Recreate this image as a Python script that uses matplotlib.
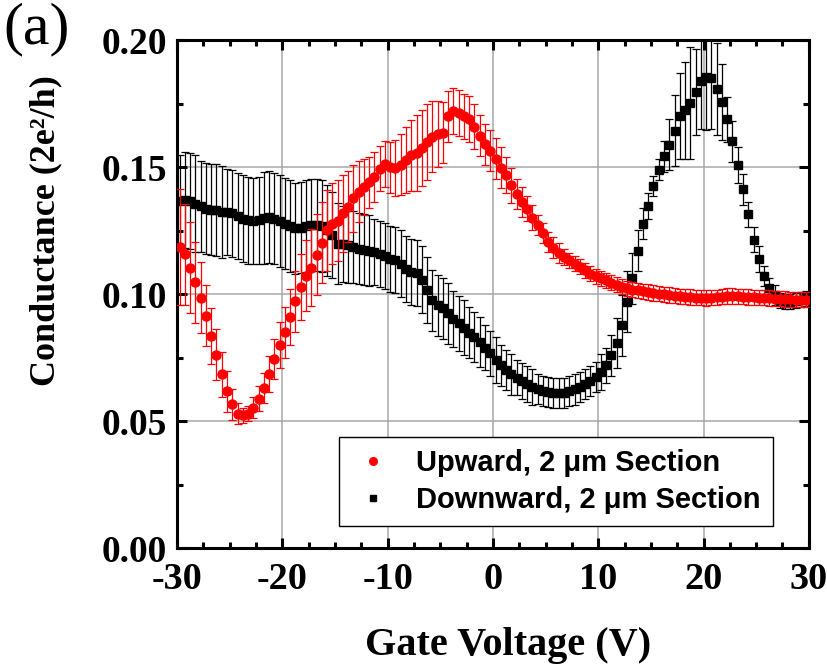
import numpy as np
import matplotlib
matplotlib.use("Agg")
import matplotlib.pyplot as plt
from matplotlib.lines import Line2D
from matplotlib.ticker import MultipleLocator, FormatStrFormatter

# gate voltage sweep, 0.5 V steps
gate_voltage = np.arange(-29.75, 30.0, 0.5)

upward = [
    0.1186, 0.1157, 0.1105, 0.1047, 0.0986, 0.0915, 0.0836, 0.0762, 0.0684, 0.0618,
    0.0566, 0.0530, 0.0524, 0.0530, 0.0554, 0.0589, 0.0630, 0.0686, 0.0745, 0.0800,
    0.0850, 0.0911, 0.0972, 0.1028, 0.1073, 0.1105, 0.1156, 0.1203, 0.1251, 0.1278,
    0.1290, 0.1318, 0.1344, 0.1377, 0.1403, 0.1423, 0.1440, 0.1462, 0.1495, 0.1514,
    0.1500, 0.1497, 0.1510, 0.1528, 0.1547, 0.1556, 0.1575, 0.1600, 0.1620, 0.1630,
    0.1635, 0.1700, 0.1722, 0.1714, 0.1700, 0.1690, 0.1660, 0.1625, 0.1590, 0.1565,
    0.1534, 0.1499, 0.1469, 0.1429, 0.1394, 0.1363, 0.1337, 0.1302, 0.1272, 0.1241,
    0.1206, 0.1184, 0.1163, 0.1147, 0.1134, 0.1121, 0.1108, 0.1094, 0.1081, 0.1071,
    0.1062, 0.1055, 0.1045, 0.1038, 0.1029, 0.1024, 0.1018, 0.1016, 0.1012, 0.1009,
    0.1005, 0.1002, 0.0999, 0.0997, 0.0994, 0.0992, 0.0990, 0.0989, 0.0987, 0.0986,
    0.0985, 0.0986, 0.0988, 0.0991, 0.0993, 0.0993, 0.0992, 0.0990, 0.0989, 0.0988,
    0.0987, 0.0986, 0.0985, 0.0983, 0.0982, 0.0981, 0.0980, 0.0979, 0.0978, 0.0978,
]
upward_err = [
    0.023, 0.020, 0.018, 0.016, 0.014, 0.012, 0.011, 0.010, 0.009, 0.008,
    0.006, 0.004, 0.003, 0.003, 0.004, 0.005, 0.006, 0.007, 0.008, 0.009,
    0.010, 0.011, 0.012, 0.013, 0.014, 0.015, 0.016, 0.016, 0.016, 0.016,
    0.016, 0.015, 0.014, 0.013, 0.012, 0.011, 0.010, 0.010, 0.009, 0.009,
    0.010, 0.011, 0.012, 0.013, 0.014, 0.015, 0.015, 0.015, 0.014, 0.013,
    0.012, 0.010, 0.009, 0.009, 0.009, 0.009, 0.009, 0.008, 0.008, 0.008,
    0.008, 0.008, 0.007, 0.007, 0.006, 0.006, 0.005, 0.005, 0.004, 0.004,
    0.004, 0.004, 0.004, 0.003, 0.003, 0.003, 0.003, 0.003, 0.003, 0.003,
    0.003, 0.003, 0.003, 0.003, 0.003, 0.003, 0.003, 0.003, 0.003, 0.003,
    0.003, 0.003, 0.003, 0.003, 0.003, 0.003, 0.003, 0.003, 0.003, 0.003,
    0.003, 0.003, 0.003, 0.003, 0.003, 0.003, 0.003, 0.003, 0.003, 0.003,
    0.003, 0.003, 0.003, 0.003, 0.003, 0.003, 0.003, 0.003, 0.003, 0.003,
]

downward = [
    0.1368, 0.1371, 0.1368, 0.1357, 0.1346, 0.1337, 0.1333, 0.1331, 0.1324, 0.1324,
    0.1318, 0.1307, 0.1298, 0.1291, 0.1289, 0.1291, 0.1301, 0.1304, 0.1298, 0.1289,
    0.1278, 0.1268, 0.1259, 0.1262, 0.1268, 0.1272, 0.1272, 0.1268, 0.1252, 0.1232,
    0.1199, 0.1197, 0.1193, 0.1186, 0.1180, 0.1176, 0.1171, 0.1167, 0.1160, 0.1151,
    0.1140, 0.1134, 0.1121, 0.1101, 0.1088, 0.1084, 0.1058, 0.1016, 0.0976, 0.0957,
    0.0944, 0.0926, 0.0904, 0.0885, 0.0869, 0.0848, 0.0832, 0.0812, 0.0790, 0.0767,
    0.0740, 0.0720, 0.0701, 0.0685, 0.0672, 0.0659, 0.0646, 0.0635, 0.0626, 0.0619,
    0.0615, 0.0611, 0.0611, 0.0612, 0.0618, 0.0625, 0.0635, 0.0646, 0.0659, 0.0674,
    0.0694, 0.0720, 0.0760, 0.0808, 0.0878, 0.0970, 0.1062, 0.1171, 0.1278, 0.1348,
    0.1425, 0.1491, 0.1543, 0.1589, 0.1643, 0.1701, 0.1724, 0.1753, 0.1797, 0.1840,
    0.1856, 0.1852, 0.1808, 0.1757, 0.1688, 0.1602, 0.1509, 0.1413, 0.1315, 0.1215,
    0.1139, 0.1071, 0.1025, 0.0996, 0.0976, 0.0970, 0.0970, 0.0974, 0.0979, 0.0983,
]
downward_err = [
    0.018, 0.019, 0.019, 0.019, 0.018, 0.018, 0.018, 0.018, 0.018, 0.017,
    0.017, 0.017, 0.017, 0.017, 0.017, 0.017, 0.018, 0.018, 0.018, 0.018,
    0.018, 0.018, 0.018, 0.018, 0.018, 0.018, 0.018, 0.018, 0.018, 0.017,
    0.016, 0.015, 0.015, 0.014, 0.014, 0.014, 0.014, 0.013, 0.013, 0.013,
    0.013, 0.013, 0.013, 0.013, 0.013, 0.013, 0.013, 0.013, 0.012, 0.012,
    0.012, 0.012, 0.011, 0.011, 0.011, 0.010, 0.010, 0.010, 0.009, 0.009,
    0.009, 0.008, 0.008, 0.008, 0.007, 0.007, 0.007, 0.007, 0.006, 0.006,
    0.006, 0.006, 0.006, 0.006, 0.006, 0.006, 0.006, 0.006, 0.006, 0.006,
    0.007, 0.007, 0.008, 0.010, 0.012, 0.012, 0.010, 0.008, 0.006, 0.005,
    0.004, 0.004, 0.006, 0.010, 0.014, 0.017, 0.019, 0.022, 0.017, 0.019,
    0.021, 0.020, 0.018, 0.015, 0.009, 0.008, 0.007, 0.006, 0.005, 0.005,
    0.005, 0.004, 0.004, 0.004, 0.003, 0.003, 0.003, 0.003, 0.003, 0.003,
]

legend_labels = ["Upward, 2 \u03bcm Section", "Downward, 2 \u03bcm Section"]

plt.rcParams["axes.unicode_minus"] = False
serif_bold = {"family": "Liberation Serif", "weight": "bold"}

fig = plt.figure(figsize=(8.27, 6.71), dpi=100)
ax = fig.add_axes([0.214, 0.183, 0.764, 0.757])

ax.grid(True, color="#a8a8a8", linewidth=1.1, zorder=0)

ax.errorbar(gate_voltage, downward, yerr=downward_err, fmt="s", color="black",
            ms=5.2, ecolor="black", elinewidth=0.9, capsize=2.6, capthick=0.9,
            zorder=3)
ax.errorbar(gate_voltage, upward, yerr=upward_err, fmt="o", color="red",
            ms=6.5, ecolor="red", elinewidth=0.9, capsize=2.6, capthick=0.9,
            zorder=4)

ax.set_xlim(-30, 30)
ax.set_ylim(0, 0.20)
ax.xaxis.set_major_locator(MultipleLocator(10))
ax.xaxis.set_minor_locator(MultipleLocator(2.5))
ax.yaxis.set_major_locator(MultipleLocator(0.05))
ax.yaxis.set_minor_locator(MultipleLocator(0.025))
ax.yaxis.set_major_formatter(FormatStrFormatter("%.2f"))

ax.tick_params(which="both", direction="in", top=True, right=True, width=2.2)
ax.tick_params(which="major", length=7)
ax.tick_params(which="minor", length=4)
ax.tick_params(axis="x", which="major", pad=10)
ax.tick_params(axis="y", which="major", pad=7)
for lab in ax.get_xticklabels():
    lab.set_fontfamily("Liberation Serif")
    lab.set_fontweight("bold")
    lab.set_fontsize(27.5)
for lab in ax.get_yticklabels():
    lab.set_fontfamily("Liberation Serif")
    lab.set_fontweight("bold")
    lab.set_fontsize(27)
for sp in ax.spines.values():
    sp.set_linewidth(2.2)

ax.set_xlabel("Gate Voltage (V)", fontsize=29, **serif_bold)
ax.set_ylabel("Conductance (2e\u00b2/h)", fontsize=26, **serif_bold)
ax.xaxis.set_label_coords(0.524, -0.155)
ax.yaxis.set_label_coords(-0.182, 0.626)

handles = [
    Line2D([], [], ls="none", marker="o", color="red", ms=5.5),
    Line2D([], [], ls="none", marker="s", color="black", ms=4.5),
]
leg = ax.legend(handles, legend_labels, loc="lower right",
                bbox_to_anchor=(0.943, 0.043), borderaxespad=0, frameon=True,
                fancybox=False, edgecolor="black", framealpha=1,
                handlelength=1.5, handletextpad=0.72, borderpad=0.42,
                labelspacing=0.3,
                prop={"family": "Liberation Sans", "weight": "bold", "size": 21})
leg.get_frame().set_linewidth(1.0)

fig.text(0.004, 0.997, "(a)", fontsize=43, family="Liberation Serif", va="top", ha="left")

fig.savefig("out.png", dpi=100)
